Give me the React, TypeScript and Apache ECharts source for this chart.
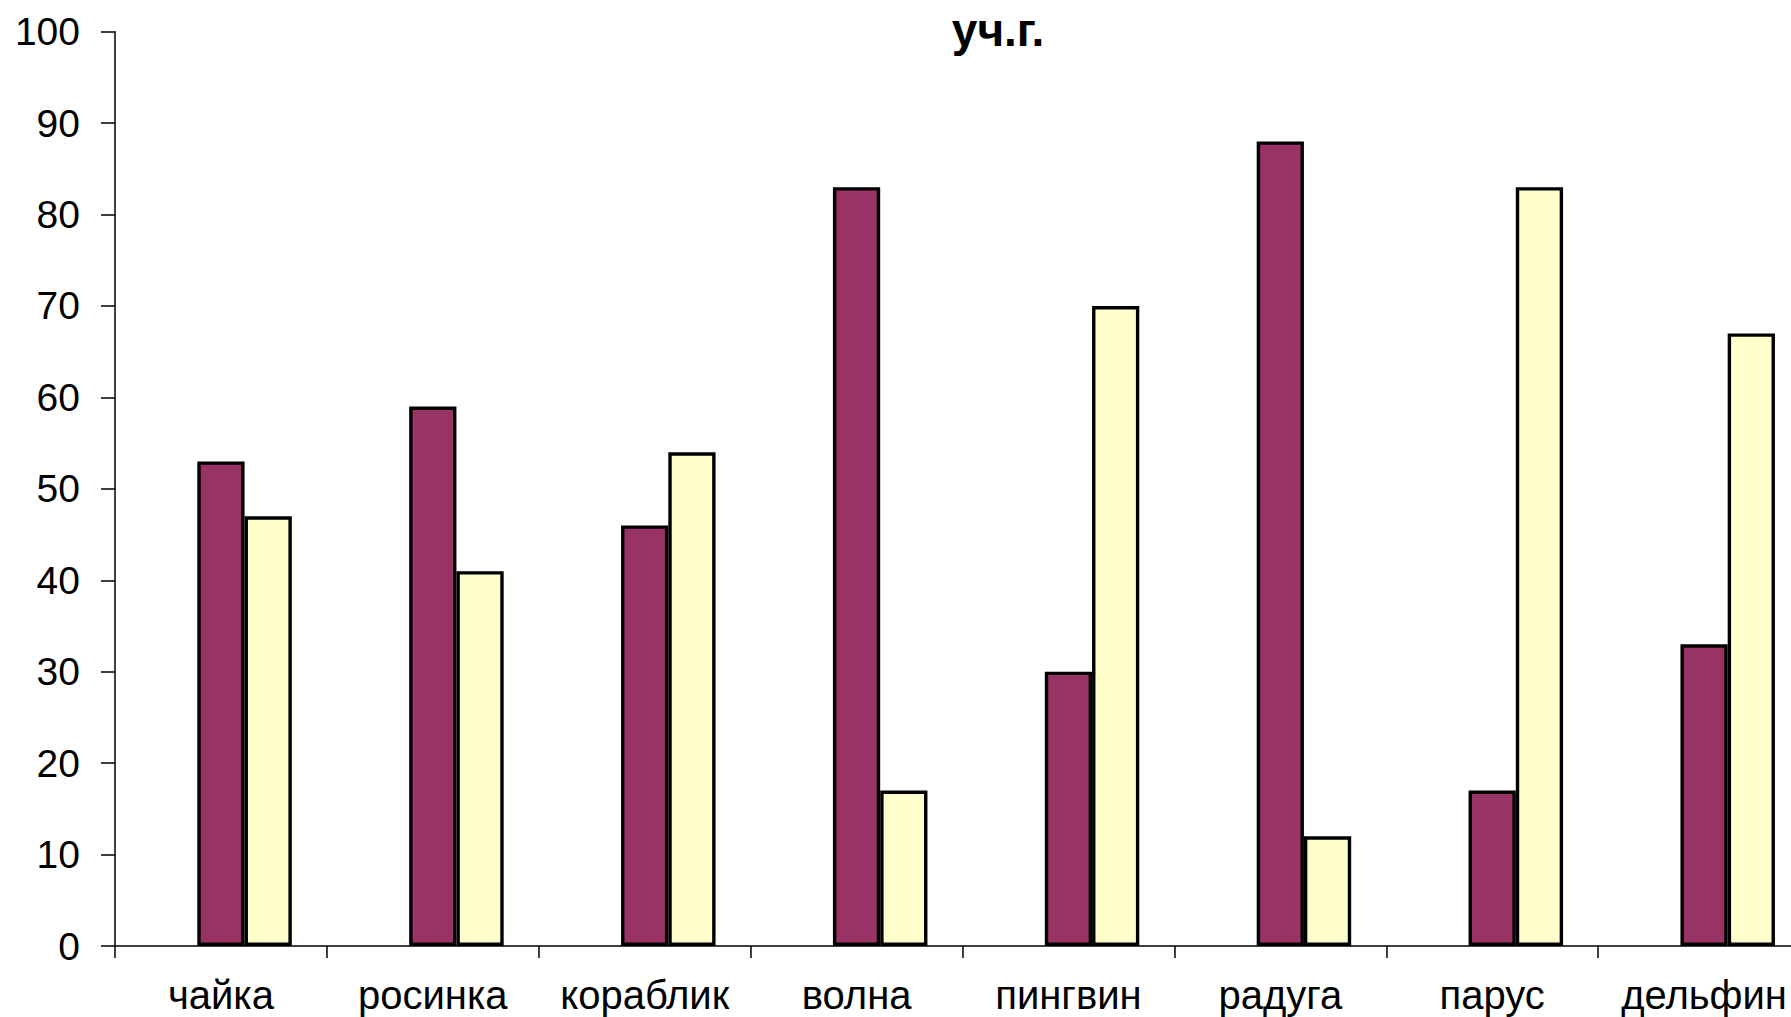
import React, { useEffect, useRef } from "react";
import * as echarts from "echarts";

const categories = ["чайка", "росинка", "кораблик", "волна", "пингвин", "радуга", "парус", "дельфин"];
const seriesA = [53, 59, 46, 83, 30, 88, 17, 33];
const seriesB = [47, 41, 54, 17, 70, 12, 83, 67];
const emptySeries: number[] = [];
const titleText = "уч.г.";

const FONT = "'Liberation Sans', Arial, sans-serif";

export default function App() {
  const ref = useRef<HTMLDivElement>(null);
  useEffect(() => {
    document.body.style.margin = "0";
    const chart = echarts.init(ref.current!, undefined, { renderer: "svg" });
    chart.setOption({
      animation: false,
      backgroundColor: "#ffffff",
      title: {
        text: titleText,
        left: 993,
        top: 2,
        textAlign: "center",
        textStyle: { fontFamily: FONT, fontSize: 46, fontWeight: "bold", color: "#000" },
      },
      grid: { left: 115, top: 31.7, width: 1695, height: 914.3, containLabel: false },
      xAxis: {
        type: "category",
        data: categories,
        axisLine: { lineStyle: { color: "#000", width: 1.5 } },
        axisTick: { show: true, length: 12, lineStyle: { color: "#000", width: 1.5 } },
        axisLabel: { fontFamily: FONT, fontSize: 40, color: "#000", margin: 29, interval: 0 },
      },
      yAxis: {
        type: "value",
        min: 0,
        max: 100,
        interval: 10,
        splitLine: { show: false },
        axisLine: { show: true, lineStyle: { color: "#000", width: 1.5 } },
        axisTick: { show: true, length: 14, lineStyle: { color: "#000", width: 1.5 } },
        axisLabel: { fontFamily: FONT, fontSize: 39, color: "#000", margin: 35 },
      },
      series: [
        { type: "bar", name: "", data: emptySeries, barGap: "0%", barCategoryGap: "33.1%" },
        {
          type: "bar",
          name: "A",
          data: seriesA,
          barGap: "0%",
          barCategoryGap: "33.1%",
          itemStyle: { color: "#993366", borderColor: "#000", borderWidth: 3.4 },
        },
        {
          type: "bar",
          name: "B",
          data: seriesB,
          barGap: "0%",
          barCategoryGap: "33.1%",
          itemStyle: { color: "#FFFFCC", borderColor: "#000", borderWidth: 3.4 },
        },
      ],
    });
    return () => chart.dispose();
  }, []);
  return (
    <div style={{ width: 1791, height: 1017, overflow: "hidden", position: "relative" }}>
      <div ref={ref} style={{ width: 1840, height: 1017 }} />
    </div>
  );
}
